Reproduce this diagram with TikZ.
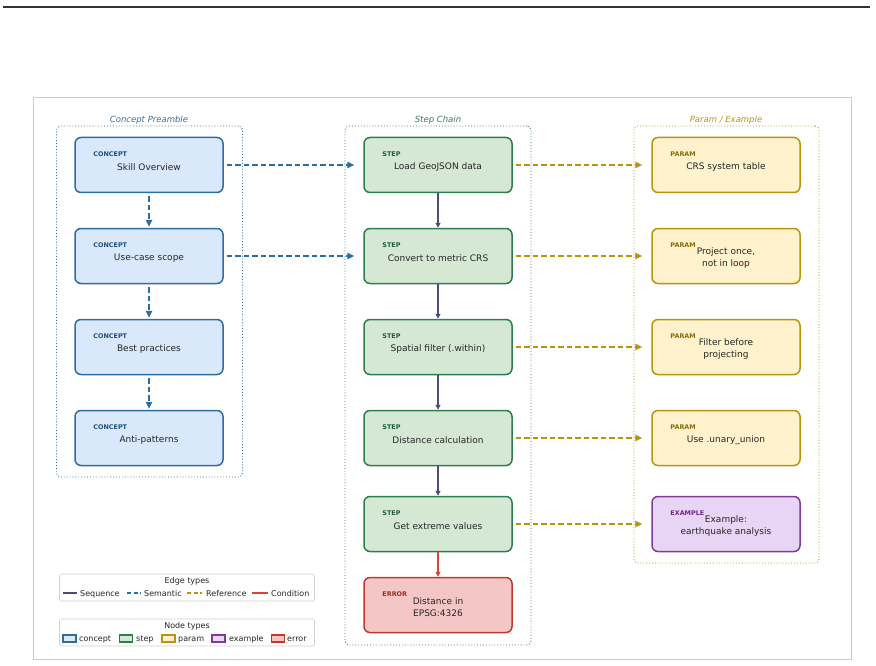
\documentclass[tikz,border=0pt]{standalone}
\usepackage{fontspec}
\setmainfont{DejaVu Sans}
\usetikzlibrary{arrows.meta}
\definecolor{cfill}{HTML}{DAE8FC}\definecolor{cdraw}{HTML}{2E6E9E}\definecolor{clab}{HTML}{1F4E79}
\definecolor{sfill}{HTML}{D5E8D4}\definecolor{sdraw}{HTML}{2E7D4F}\definecolor{slab}{HTML}{1E5E3A}
\definecolor{pfill}{HTML}{FFF2CC}\definecolor{pdraw}{HTML}{B8960C}\definecolor{plab}{HTML}{8A6D0B}
\definecolor{efill}{HTML}{E8D5F5}\definecolor{edraw}{HTML}{7D3C98}\definecolor{elab}{HTML}{6A2C85}
\definecolor{rfill}{HTML}{F5C6C6}\definecolor{rdraw}{HTML}{C0392B}\definecolor{rlab}{HTML}{9B2C22}
\definecolor{seqc}{HTML}{4A4E77}\definecolor{semc}{HTML}{2A6FA0}\definecolor{refc}{HTML}{B8960C}\definecolor{condc}{HTML}{D9443A}
\definecolor{gt1}{HTML}{3D6E95}\definecolor{gt2}{HTML}{3A7A5A}\definecolor{gt3}{HTML}{B8960C}
\tikzset{
  nbox/.style={rectangle, rounded corners=6pt, line width=1.5pt, minimum width=148pt, minimum height=55pt, inner sep=0pt},
  conceptbox/.style={nbox, fill=cfill, draw=cdraw},
  stepbox/.style={nbox, fill=sfill, draw=sdraw},
  parambox/.style={nbox, fill=pfill, draw=pdraw},
  examplebox/.style={nbox, fill=efill, draw=edraw},
  errorbox/.style={nbox, fill=rfill, draw=rdraw},
  typelab/.style={anchor=west, inner sep=0pt, font=\fontsize{6.4}{7}\selectfont\bfseries},
  maintext/.style={align=center, inner sep=0pt, font=\fontsize{9}{12}\selectfont, text=black!85},
  grp/.style={rounded corners=4pt, line width=0.9pt, dotted},
  gtitle/.style={inner sep=0pt, font=\fontsize{8.5}{10}\selectfont\itshape},
  arr/.style={line width=1.6pt, -{Triangle[length=7pt,width=6.5pt]}, shorten >=1pt},
  seqarr/.style={line width=1.5pt, draw=seqc, -{Triangle[length=5pt,width=5pt]}},
  semarr/.style={arr, draw=semc, dash pattern=on 5.5pt off 3pt},
  refarr/.style={arr, draw=refc, dash pattern=on 5.5pt off 3pt},
  condarr/.style={line width=1.5pt, draw=condc, -{Triangle[length=5pt,width=5pt]}},
  legtext/.style={anchor=base west, inner sep=0pt, font=\fontsize{8}{10}\selectfont, text=black!85},
  legbox/.style={draw=black!18, fill=white, rounded corners=2pt, line width=0.6pt},
  sw/.style={line width=1.1pt, minimum width=13pt, minimum height=7pt, inner sep=0pt},
}
\newcommand{\mybox}[7]{%
  \node[#4box] (#1) at (#2,#3) {};
  \node[typelab, text=#5] (#1-t) at ([xshift=19pt,yshift=-17pt]#1.north west) {#6};
  \node[maintext] (#1-m) at ([yshift=-2pt]#1.center) {#7};
}
\begin{document}
\begin{tikzpicture}[x=1pt,y=-1pt]
\useasboundingbox (0,0) rectangle (876,666);
% top rule and frame
\coordinate (tl) at (3,7); \coordinate (tr) at (870,7);
\draw[line width=1.4pt, black!80] (tl) -- (tr);
\node[draw=black!20, line width=0.7pt, fill=white, minimum width=818pt, minimum height=562pt, inner sep=0pt] (frame) at (442,378) {};
% groups
\node[grp, draw=gt1, minimum width=186pt, minimum height=351pt] (g1) at (149.5,301.5) {};
\node[grp, draw=gt2, minimum width=186pt, minimum height=519pt] (g2) at (438,385.5) {};
\node[grp, draw=gt3, minimum width=185pt, minimum height=437pt] (g3) at (726.5,344.5) {};
\node[gtitle, text=gt1] (g1t) at (149,120) {Concept Preamble};
\node[gtitle, text=gt2] (g2t) at (438,120) {Step Chain};
\node[gtitle, text=gt3] (g3t) at (726,120) {Param / Example};
% concept nodes
\mybox{c1}{149}{165}{concept}{clab}{CONCEPT}{Skill Overview}
\mybox{c2}{149}{256}{concept}{clab}{CONCEPT}{Use-case scope}
\mybox{c3}{149}{347}{concept}{clab}{CONCEPT}{Best practices}
\mybox{c4}{149}{438}{concept}{clab}{CONCEPT}{Anti-patterns}
% step nodes
\mybox{s1}{438}{165}{step}{slab}{STEP}{Load GeoJSON data}
\mybox{s2}{438}{256}{step}{slab}{STEP}{Convert to metric CRS}
\mybox{s3}{438}{347}{step}{slab}{STEP}{Spatial filter (.within)}
\mybox{s4}{438}{438}{step}{slab}{STEP}{Distance calculation}
\mybox{s5}{438}{524}{step}{slab}{STEP}{Get extreme values}
\mybox{er}{438}{605}{error}{rlab}{ERROR}{Distance in\\EPSG:4326}
% param nodes
\mybox{p1}{726}{165}{param}{plab}{PARAM}{CRS system table}
\mybox{p2}{726}{256}{param}{plab}{PARAM}{Project once,\\not in loop}
\mybox{p3}{726}{347}{param}{plab}{PARAM}{Filter before\\projecting}
\mybox{p4}{726}{438}{param}{plab}{PARAM}{Use .unary\_union}
\mybox{ex}{726}{524}{example}{elab}{EXAMPLE}{Example:\\earthquake analysis}
% semantic edges
\draw[semarr, shorten <=3pt] (c1.south) -- (c2.north);
\draw[semarr, shorten <=3pt] (c2.south) -- (c3.north);
\draw[semarr, shorten <=3pt] (c3.south) -- (c4.north);
\draw[semarr, shorten <=3pt, shorten >=9pt] (c1.east) -- (s1.west);
\draw[semarr, shorten <=3pt, shorten >=9pt] (c2.east) -- (s2.west);
% sequence edges
\draw[seqarr] (s1.south) -- (s2.north);
\draw[seqarr] (s2.south) -- (s3.north);
\draw[seqarr] (s3.south) -- (s4.north);
\draw[seqarr] (s4.south) -- (s5.north);
\draw[condarr] (s5.south) -- (er.north);
% reference edges
\draw[refarr, shorten <=3pt, shorten >=9pt] (s1.east) -- (p1.west);
\draw[refarr, shorten <=3pt, shorten >=9pt] (s2.east) -- (p2.west);
\draw[refarr, shorten <=3pt, shorten >=9pt] (s3.east) -- (p3.west);
\draw[refarr, shorten <=3pt, shorten >=9pt] (s4.east) -- (p4.west);
\draw[refarr, shorten <=3pt, shorten >=9pt] (s5.east) -- (ex.west);
% legend: edge types
\node[legbox, minimum width=255pt, minimum height=27pt] (leg1) at (187,587.5) {};
\node[inner sep=0pt, font=\fontsize{8}{10}\selectfont, text=black!85] (leg1t) at (187,581) {Edge types};
\coordinate (la1) at (63,593); \coordinate (lb1) at (77,593);
\draw[line width=1.4pt, seqc] (la1) -- (lb1);
\node[legtext] (lt1) at (80,596) {Sequence};
\coordinate (la2) at (127,593); \coordinate (lb2) at (141,593);
\draw[line width=1.4pt, semc, dash pattern=on 4pt off 2.5pt] (la2) -- (lb2);
\node[legtext] (lt2) at (144,596) {Semantic};
\coordinate (la3) at (187,593); \coordinate (lb3) at (202,593);
\draw[line width=1.4pt, refc, dash pattern=on 4pt off 2.5pt] (la3) -- (lb3);
\node[legtext] (lt3) at (206,596) {Reference};
\coordinate (la4) at (252,593); \coordinate (lb4) at (268,593);
\draw[line width=1.4pt, condc] (la4) -- (lb4);
\node[legtext] (lt4) at (271,596) {Condition};
% legend: node types
\node[legbox, minimum width=255pt, minimum height=27pt] (leg2) at (187,632.5) {};
\node[inner sep=0pt, font=\fontsize{8}{10}\selectfont, text=black!85] (leg2t) at (187,626) {Node types};
\node[sw, fill=cfill, draw=cdraw] (sw1) at (69.5,638.5) {};
\node[legtext] (nt1) at (79,641.5) {concept};
\node[sw, fill=sfill, draw=sdraw] (sw2) at (126,638.5) {};
\node[legtext] (nt2) at (136,641.5) {step};
\node[sw, fill=pfill, draw=pdraw] (sw3) at (168.5,638.5) {};
\node[legtext] (nt3) at (178,641.5) {param};
\node[sw, fill=efill, draw=edraw] (sw4) at (218.5,638.5) {};
\node[legtext] (nt4) at (229,641.5) {example};
\node[sw, fill=rfill, draw=rdraw] (sw5) at (278,638.5) {};
\node[legtext] (nt5) at (287,641.5) {error};
\end{tikzpicture}
\end{document}
